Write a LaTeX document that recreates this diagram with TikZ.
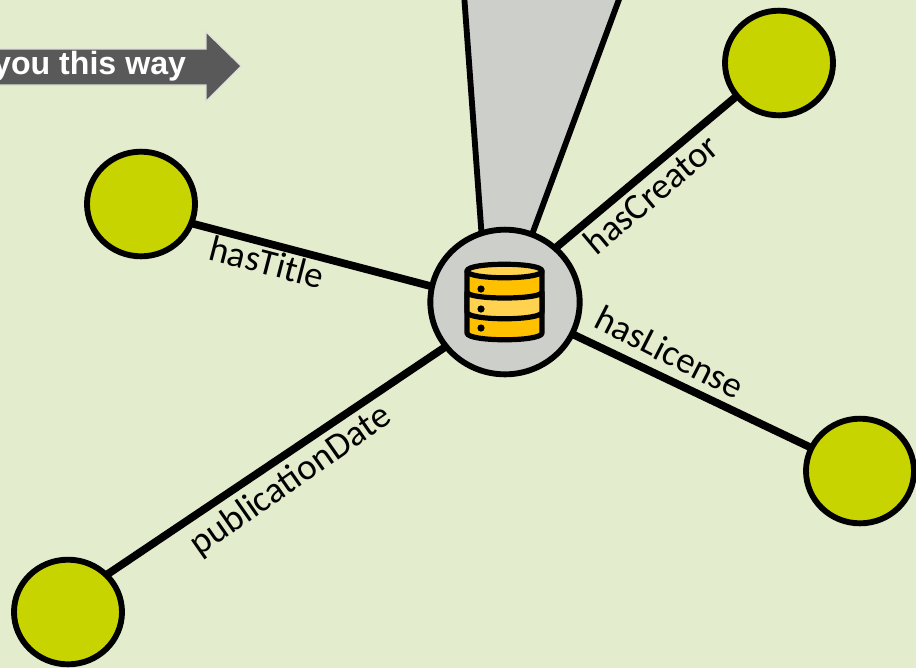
\documentclass[tikz,border=0pt]{standalone}
\usepackage{fontspec}
\usetikzlibrary{shapes.geometric}
\setmainfont{Carlito}
\newfontfamily\arrowfont{Liberation Sans}
\definecolor{bgc}{HTML}{E3ECCD}
\definecolor{leafc}{HTML}{C8D400}
\definecolor{hubc}{HTML}{CDCFCB}
\definecolor{arrowc}{HTML}{595959}
\definecolor{dbdark}{HTML}{FFC000}
\definecolor{dblight}{HTML}{FFD34F}
\tikzset{
  every node/.style={inner sep=0pt,outer sep=0pt},
  leaf/.style={ellipse,draw=black,line width=4.4pt,fill=leafc,minimum width=81pt,minimum height=78.5pt},
  hub/.style={ellipse,draw=black,line width=4.4pt,fill=hubc,minimum width=112pt,minimum height=108.5pt},
  edgeline/.style={draw=black,line width=5.8pt},
  edgelabel/.style={font=\fontsize{27.5bp}{30bp}\selectfont,text=black},
  dbline/.style={draw=black,line width=3.9pt,line join=round},
}
\begin{document}
\begin{tikzpicture}[x=0.75pt,y=-0.75pt]
\path[use as bounding box,fill=bgc] (0,0) rectangle (916,668);
\clip (0,0) rectangle (916,668);
% guide arrow
\path[fill=arrowc,draw=white!80!arrowc,line width=0.8pt] (-10,49) -- (206,49) -- (206,32) -- (241,66) -- (206,101) -- (206,85) -- (-10,85) -- cycle;
\node[anchor=base east,text=white,font=\arrowfont\bfseries\fontsize{24bp}{28bp}\selectfont] (guide) at (186,74) {you this way};
% funnel
\path[fill=hubc,draw=black,line width=4.4pt] (464,-6) -- (482,240) -- (530,240) -- (621,-6);
% nodes
\node[hub] (center) at (505,302) {};
\node[leaf] (title) at (141,204) {};
\node[leaf] (creator) at (779,63) {};
\node[leaf] (license) at (860,471) {};
\node[leaf] (date) at (68,612) {};
% connectors
\path[edgeline] (center.168) -- (title.-21);
\path[edgeline] (center.47) -- (creator.218);
\path[edgeline] (center) -- (license);
\path[edgeline] (center.217.5) -- (date.44);
% labels
\node[edgelabel,rotate=-14.5] (ltitle) at (267,262) {hasTitle};
\node[edgelabel,rotate=40] (lcreator) at (651,194) {hasCreator};
\node[edgelabel,rotate=-27] (llicense) at (670,352) {hasLicense};
\node[edgelabel,rotate=35] (ldate) at (291,481) {publicationDate};
% database icon
\path[dbline,fill=dbdark] (467,271) -- (467,333) .. controls (467,342) and (542,342) .. (542,333) -- (542,271) -- cycle;
\path[dbline,fill=dblight] (467,292) .. controls (467,300) and (542,300) .. (542,292) -- (542,312) .. controls (542,321) and (467,321) .. (467,312) -- cycle;
\path[dbline,fill=dblight] (467,271) .. controls (467,262) and (542,262) .. (542,271) .. controls (542,280) and (467,280) .. (467,271) -- cycle;
\fill (481,289) circle (3.6);
\fill (481,309) circle (3.6);
\fill (481,328) circle (3.6);
\end{tikzpicture}
\end{document}
